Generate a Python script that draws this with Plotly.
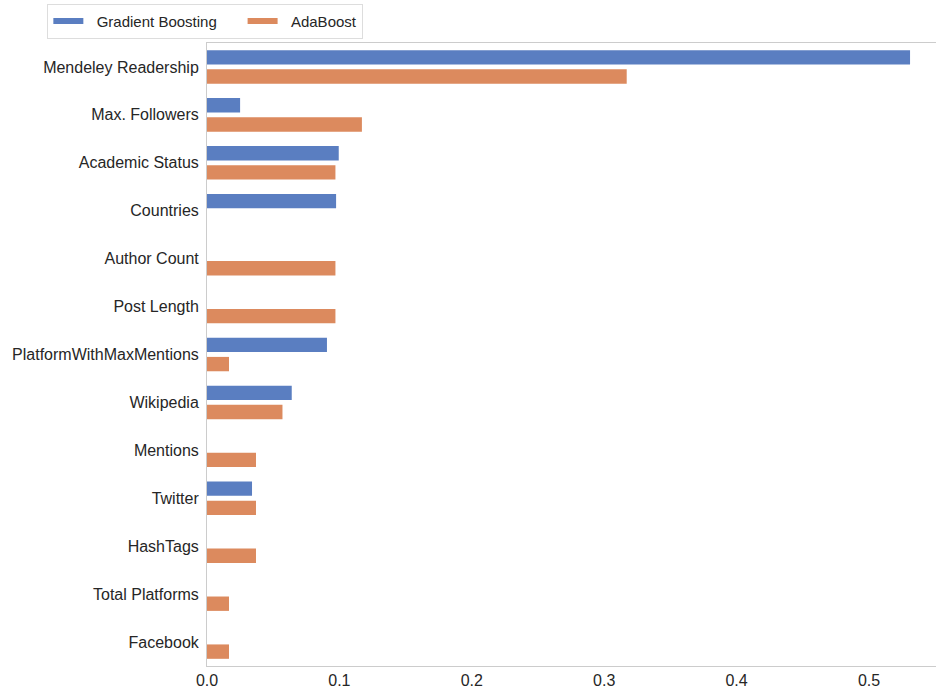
import plotly.graph_objects as go

features = ["Mendeley Readership", "Max. Followers", "Academic Status", "Countries",
            "Author Count", "Post Length", "PlatformWithMaxMentions", "Wikipedia",
            "Mentions", "Twitter", "HashTags", "Total Platforms", "Facebook"]
gradient_boosting = [0.531, 0.025, 0.0995, 0.0975, 0, 0, 0.0906, 0.064, 0, 0.034, 0, 0, 0]
adaboost = [0.317, 0.117, 0.097, 0, 0.097, 0.097, 0.0166, 0.057, 0.037, 0.037, 0.037, 0.0166, 0.0166]
x_ticks = [0.0, 0.1, 0.2, 0.3, 0.4, 0.5]

BLUE = "#5a7ec1"
ORANGE = "#dc8a5e"
NB = "\u00a0"

fig = go.Figure()
fig.add_trace(go.Bar(y=features, x=gradient_boosting, orientation="h", name="Gradient Boosting",
                     marker=dict(color=BLUE, line=dict(width=0)), showlegend=False))
fig.add_trace(go.Bar(y=features, x=adaboost, orientation="h", name="AdaBoost",
                     marker=dict(color=ORANGE, line=dict(width=0)), showlegend=False))
# legend proxies (line-style keys)
fig.add_trace(go.Scatter(x=[None], y=[None], mode="lines", name=NB * 2 + "Gradient Boosting" + NB * 5,
                         line=dict(color=BLUE, width=6)))
fig.add_trace(go.Scatter(x=[None], y=[None], mode="lines", name=NB * 2 + "AdaBoost",
                         line=dict(color=ORANGE, width=6)))

fig.update_layout(
    width=936, height=689,
    margin=dict(l=207, r=0, t=43, b=23),
    paper_bgcolor="white", plot_bgcolor="white",
    barmode="group", bargap=0.2, bargroupgap=0.25,
    font=dict(family="Liberation Sans, Arial, sans-serif", color="#262626"),
    legend=dict(orientation="h", x=-0.219, y=1.063, xanchor="left", yanchor="top",
                bgcolor="white", bordercolor="#dddddd", borderwidth=1,
                font=dict(size=15), itemwidth=30, tracegroupgap=0),
)
fig.update_xaxes(range=[0, 0.5506], tickvals=x_ticks, ticktext=[f"{v:.1f}" for v in x_ticks],
                 showgrid=False, zeroline=False, showline=True, linecolor="#cccccc", linewidth=1,
                 mirror=True, ticks="", tickfont=dict(size=16))
fig.update_yaxes(categoryorder="array", categoryarray=features, autorange="reversed",
                 showgrid=False, zeroline=False, showline=True, linecolor="#cccccc", linewidth=1,
                 ticks="", tickfont=dict(size=16), ticklabelstandoff=4)

fig.write_html("out.html", config={"displayModeBar": False},
               post_script="document.body.style.margin='0';document.body.style.overflow='hidden';")
